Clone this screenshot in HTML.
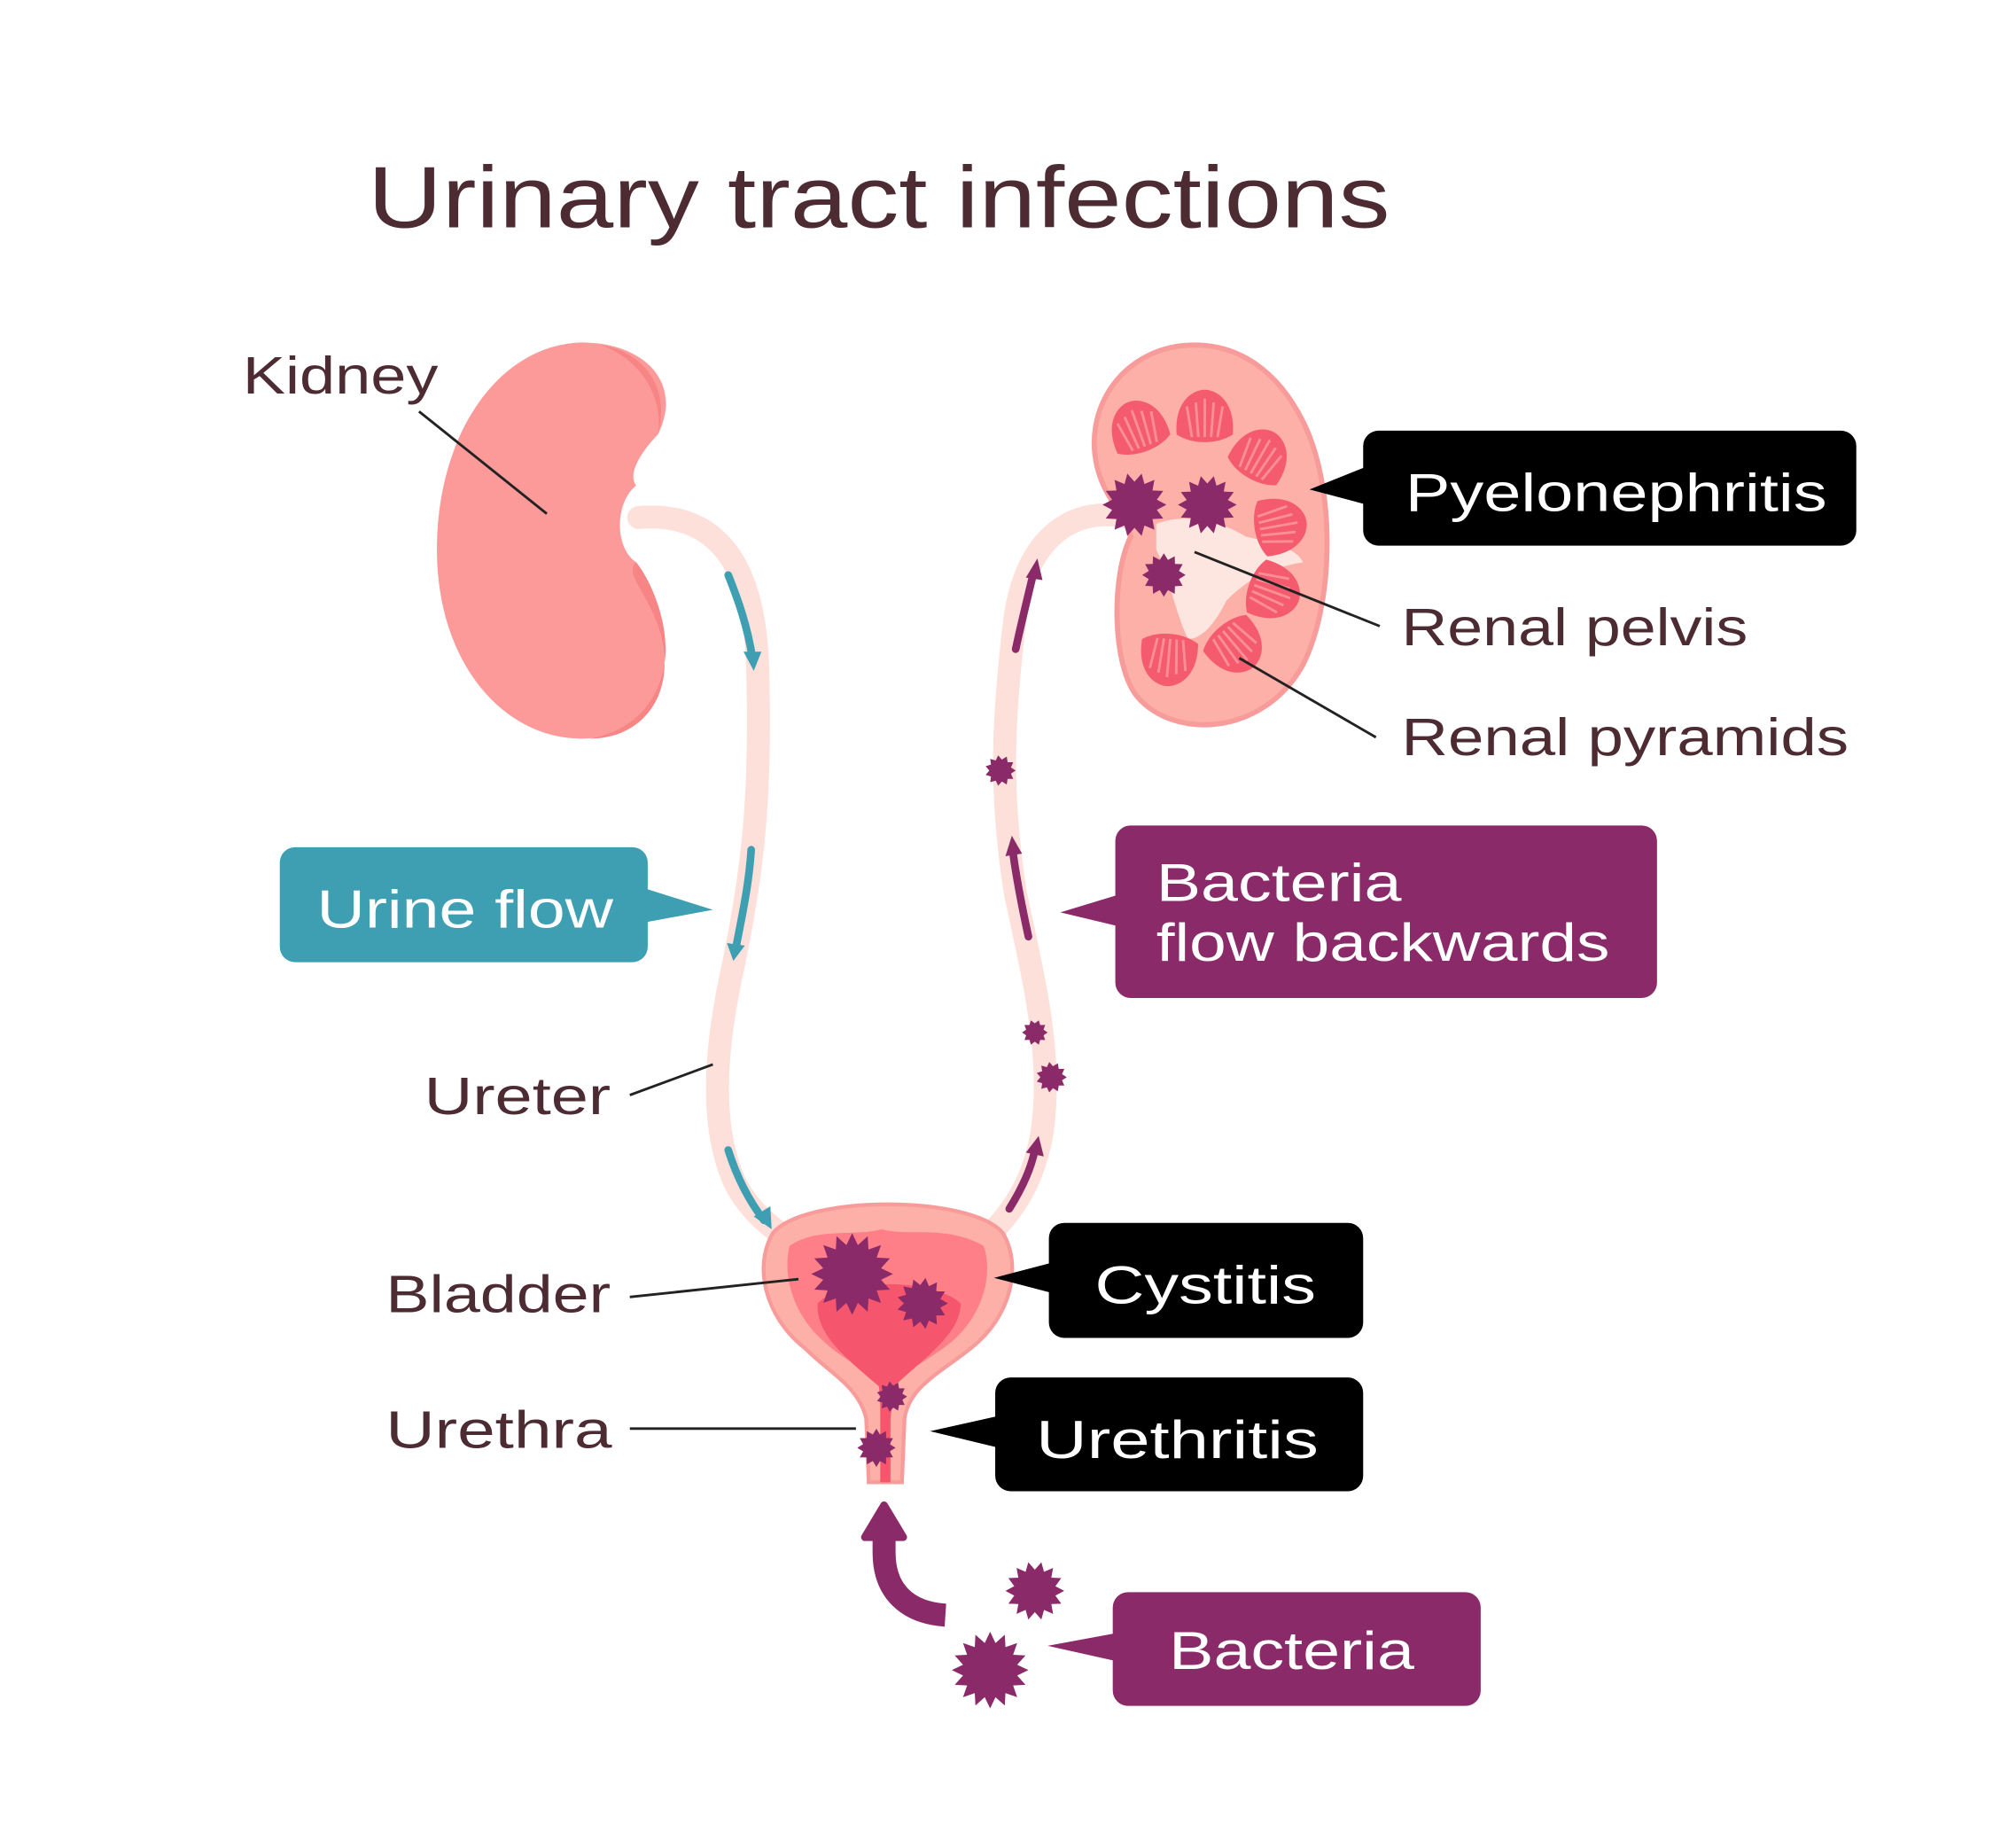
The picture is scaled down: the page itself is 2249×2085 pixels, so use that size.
<!DOCTYPE html>
<html><head><meta charset="utf-8"><style>
html,body{margin:0;padding:0;background:#fff;}
svg{display:block;}
text{font-family:"Liberation Sans","DejaVu Sans",sans-serif;}
</style></head><body>
<svg id="s" width="2249" height="2085" viewBox="0 0 1560 1446.2" xmlns="http://www.w3.org/2000/svg">
<rect width="1560" height="1447" fill="#fff"/>
<text x="288" y="178" font-size="68" fill="#4d2b33" textLength="800" lengthAdjust="spacingAndGlyphs">Urinary tract infections</text>

<!-- ureters -->
<path d="M500,405 C560,400 590,440 593,520 C596,620 590,680 573,760 C560,820 555,880 575,925 C585,945 600,958 612,966" fill="none" stroke="#fde0da" stroke-width="18" stroke-linecap="round"/>
<path d="M885,405 C840,395 805,420 795,480 C785,560 782,620 795,700 C810,770 825,830 815,890 C808,925 795,945 775,966" fill="none" stroke="#fde0da" stroke-width="18" stroke-linecap="round"/>

<!-- left kidney -->
<path d="M455,268 C390,270 342,340 342,430 C342,520 395,578 455,578 C505,578 532,540 515,490 C505,462 488,448 498,440 C480,428 482,392 498,380 C490,370 505,350 515,340 C535,300 505,268 455,268Z" fill="#fc9a9a"/>
<path d="M498,440 C510,455 525,490 520,520 C515,550 495,572 462,578 C505,578 532,540 515,490 C505,462 488,448 498,440Z" fill="#f78585"/>
<path d="M515,340 C520,310 500,280 470,270 C505,275 525,305 515,340Z" fill="#f78585"/>

<!-- right kidney -->
<path d="M935,270 C880,270 845,320 860,370 C868,395 880,400 885,420 C870,450 870,520 890,545 C920,580 990,575 1020,520 C1045,470 1045,380 1020,330 C1000,290 970,270 935,270Z" fill="#fcb0a8" stroke="#f79b9b" stroke-width="4"/>
<path d="M905,410 C930,400 960,410 975,420 C1000,425 1015,430 1020,440 C990,445 975,455 960,470 C950,490 940,500 930,500 C920,480 915,450 905,430Z" fill="#fde6e0"/>
<g id="pyr" fill="#f45b6f"></g>

<!-- bladder -->
<path d="M605,965 C630,935 760,935 785,965 C800,990 792,1030 760,1055 C735,1075 712,1085 708,1110 L706,1160 L680,1160 L678,1110 C672,1085 650,1075 630,1055 C598,1030 590,990 605,965Z" fill="#fcb0a8" stroke="#f79b9b" stroke-width="3"/>
<path d="M618,975 C640,960 670,968 690,962 C710,968 740,958 770,975 C778,1000 768,1030 745,1050 C725,1066 705,1075 695,1085 C685,1075 662,1066 645,1050 C622,1030 612,1000 618,975Z" fill="#fe7f88"/>
<path d="M640,1020 C660,1000 730,1000 752,1020 C752,1045 720,1065 700,1085 L697,1110 L690,1110 L688,1085 C665,1065 638,1045 640,1020Z" fill="#f5566d"/>
<path d="M693,1085 L693,1160" stroke="#f5566d" stroke-width="8"/>

<!-- flow arrows -->
<g fill="none" stroke="#3e9fb3" stroke-width="6" stroke-linecap="round">
<path d="M570,450 C578,470 585,490 589,515"/><path d="M588,665 C586,695 580,720 576,742"/><path d="M570,900 C578,925 588,942 598,955"/>
</g>
<g fill="#3e9fb3"><polygon points="582,510 596,510 590,525"/><polygon points="569,738 583,740 574,752"/><polygon points="590,952 603,944 604,962"/></g>
<g fill="none" stroke="#8b2a68" stroke-width="6" stroke-linecap="round">
<path d="M795,508 C800,485 805,465 809,448"/><path d="M805,733 C800,710 796,690 793,668"/><path d="M790,946 C800,930 807,915 810,900"/>
</g>
<g fill="#8b2a68"><polygon points="803,452 816,454 812,437"/><polygon points="787,670 800,668 792,654"/><polygon points="803,902 817,905 813,889"/></g>
<path d="M740,1264 C710,1262 692,1245 692,1215 L692,1200" fill="none" stroke="#8b2a68" stroke-width="18"/>
<polygon points="677,1203 707,1203 692,1178" fill="#8b2a68" stroke="#8b2a68" stroke-width="6" stroke-linejoin="round"/>

<g id="stars" fill="#8b2a68"></g>

<!-- leader lines -->
<g stroke="#222" stroke-width="2">
<line x1="328" y1="322" x2="428" y2="402"/>
<line x1="493" y1="857" x2="558" y2="833"/>
<line x1="493" y1="1015" x2="625" y2="1001"/>
<line x1="493" y1="1118" x2="670" y2="1118"/>
<line x1="1080" y1="490" x2="935" y2="432"/>
<line x1="1077" y1="577" x2="970" y2="515"/>
</g>
<g font-size="41" fill="#4d2b33" lengthAdjust="spacingAndGlyphs">
<text x="190" y="308" textLength="153" lengthAdjust="spacingAndGlyphs">Kidney</text>
<text x="332" y="872" textLength="146" lengthAdjust="spacingAndGlyphs">Ureter</text>
<text x="302" y="1027" textLength="176" lengthAdjust="spacingAndGlyphs">Bladder</text>
<text x="302" y="1133" textLength="177" lengthAdjust="spacingAndGlyphs">Urethra</text>
<text x="1097" y="505" textLength="271" lengthAdjust="spacingAndGlyphs">Renal pelvis</text>
<text x="1097" y="591" textLength="350" lengthAdjust="spacingAndGlyphs">Renal pyramids</text>
</g>

<!-- callouts -->
<g font-size="42" fill="#fff">
<rect x="1067" y="337" width="386" height="90" rx="12" fill="#000"/><polygon points="1070,365 1025,383 1070,395" fill="#000"/>
<text x="1100" y="400" textLength="330" lengthAdjust="spacingAndGlyphs">Pyelonephritis</text>
<rect x="219" y="663" width="288" height="90" rx="12" fill="#3e9fb3"/><polygon points="504,695 558,712 504,722" fill="#3e9fb3"/>
<text x="248" y="726" textLength="232" lengthAdjust="spacingAndGlyphs">Urine flow</text>
<rect x="873" y="646" width="424" height="135" rx="12" fill="#8b2a68"/><polygon points="876,700 830,714 876,725" fill="#8b2a68"/>
<text x="905" y="705" textLength="192" lengthAdjust="spacingAndGlyphs">Bacteria</text>
<text x="905" y="752" textLength="355" lengthAdjust="spacingAndGlyphs">flow backwards</text>
<rect x="821" y="957" width="246" height="90" rx="12" fill="#000"/><polygon points="824,988 778,1000 824,1012" fill="#000"/>
<text x="857" y="1020" textLength="173" lengthAdjust="spacingAndGlyphs">Cystitis</text>
<rect x="779" y="1078" width="288" height="89" rx="12" fill="#000"/><polygon points="782,1108 728,1120 782,1133" fill="#000"/>
<text x="811" y="1141" textLength="221" lengthAdjust="spacingAndGlyphs">Urethritis</text>
<rect x="871" y="1246" width="288" height="89" rx="12" fill="#8b2a68"/><polygon points="874,1278 820,1288 874,1300" fill="#8b2a68"/>
<text x="915" y="1306" textLength="192" lengthAdjust="spacingAndGlyphs">Bacteria</text>
</g>
</svg>
<script>
var ns="http://www.w3.org/2000/svg";
function star(g,cx,cy,r,n){var p=[];for(var i=0;i<2*n;i++){var a=Math.PI*i/n;var rr=i%2?r*0.72:r;p.push((cx+rr*Math.cos(a)).toFixed(1)+","+(cy+rr*Math.sin(a)).toFixed(1));}
var e=document.createElementNS(ns,"polygon");e.setAttribute("points",p.join(" "));g.appendChild(e);}
var g=document.getElementById("stars");
[[888,395,25,14],[945,395,23,14],[911,450,17,12],[783,603,12,11],[810,808,10,10],[823,843,12,11],[667,997,32,16],[722,1020,20,13],[698,1093,12,11],[686,1133,15,12],[810,1245,23,14],[775,1307,30,16]].forEach(function(s){star(g,s[0],s[1],s[2],s[3]);});
var py=document.getElementById("pyr");
[[892,338,-20],[943,330,0],[985,360,30],[998,412,80],[993,462,110],[965,503,140],[915,512,185]].forEach(function(q){
var e=document.createElementNS(ns,"path");
e.setAttribute("d","M-22,10 C-24,-15 -10,-25 0,-25 C10,-25 24,-15 22,10 C10,18 -10,18 -22,10Z");
e.setAttribute("transform","translate("+q[0]+","+q[1]+") rotate("+q[2]+")");py.appendChild(e);
for(var k=-2;k<=2;k++){var l=document.createElementNS(ns,"line");l.setAttribute("x1",k*7);l.setAttribute("y1",-18+Math.abs(k)*3);l.setAttribute("x2",k*5);l.setAttribute("y2",12);l.setAttribute("stroke","#fc8f95");l.setAttribute("stroke-width","2");l.setAttribute("transform","translate("+q[0]+","+q[1]+") rotate("+q[2]+")");py.appendChild(l);}
});
</script>
</body></html>
